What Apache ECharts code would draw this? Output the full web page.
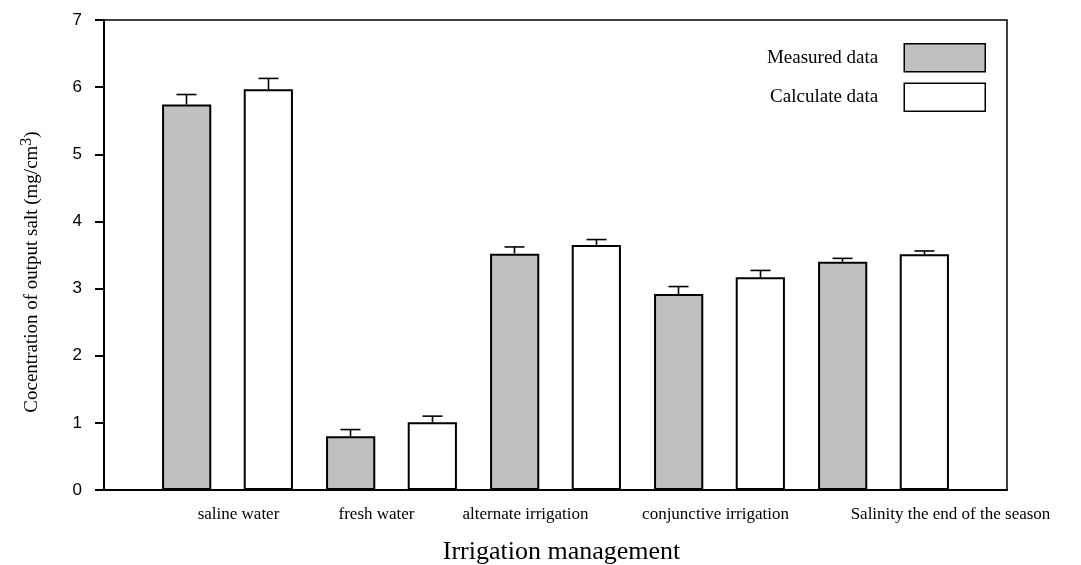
<!DOCTYPE html>
<html>
<head>
<meta charset="utf-8">
<title>Irrigation management</title>
<script src="https://cdn.jsdelivr.net/npm/echarts@6/dist/echarts.min.js"></script>
<style>
  html, body { margin: 0; padding: 0; background: #ffffff; }
  #myChart { width: 1081px; height: 565px; }
</style>
</head>
<body>
<div id="myChart"></div>
<script>
// categories on the x axis
var categories = [
  "saline water",
  "fresh water",
  "alternate irrigation",
  "conjunctive irrigation",
  "Salinity the end of the season"
];
// measured / calculated concentration (mg/cm3)
var measuredData = [5.74, 0.80, 3.52, 2.92, 3.40];
var calculateData = [5.97, 1.01, 3.65, 3.17, 3.51];
// upper error bars
var measuredErr = [0.15, 0.10, 0.10, 0.11, 0.05];
var calculateErr = [0.16, 0.09, 0.08, 0.10, 0.05];
// y ticks
var yTicks = [0, 1, 2, 3, 4, 5, 6, 7];

// small shifts of the category labels (px), like in the original picture
var labelShift = [11, -15, -30, -4, 67];

var serifFont = "'Liberation Serif', 'Times New Roman', serif";

function errRows(vals, errs) {
  return vals.map(function (v, i) {
    return [i, v, errs[i]];
  });
}

// side: -1 left bar of the pair, 1 right bar
function makeErrRender(side) {
  return function (params, api) {
    var band = api.size([1, 0])[0];
    var c = api.coord([api.value(0), api.value(1)]);
    var t = api.coord([api.value(0), api.value(1) + api.value(2)]);
    var x = c[0] + side * band / 4;
    var half = band * 0.061;
    var style = { stroke: "#000", lineWidth: 1.6 };
    return {
      type: "group",
      children: [
        { type: "line", shape: { x1: x, y1: c[1], x2: x, y2: t[1] }, style: style },
        { type: "line", shape: { x1: x - half, y1: t[1], x2: x + half, y2: t[1] }, style: style }
      ]
    };
  };
}

var rich = {};
var labelNames = {};
categories.forEach(function (name, i) {
  var s = labelShift[i];
  rich["l" + i] = {
    fontFamily: serifFont,
    fontSize: 17,
    color: "#000",
    padding: s >= 0 ? [0, 0, 0, 2 * s] : [0, -2 * s, 0, 0]
  };
  labelNames[name] = "l" + i;
});

var myChart = echarts.init(document.getElementById("myChart"));
var option = {
  backgroundColor: "#ffffff",
  animation: false,
  grid: [
    // frame with the y axis
    { left: 104, right: 74, top: 20, bottom: 75, outerBoundsMode: "none", containLabel: false,
      show: true, borderColor: "#000", borderWidth: 1.5 },
    // inner grid for the bars
    { left: 145.5, right: 115.5, top: 20, bottom: 75, outerBoundsMode: "none", containLabel: false }
  ],
  legend: {
    data: ["Measured data", "Calculate data"],
    orient: "vertical",
    align: "right",
    right: 90,
    top: 38,
    itemWidth: 81,
    itemHeight: 28,
    itemGap: 10,
    icon: "rect",
    selectedMode: false,
    itemStyle: { borderColor: "#000", borderWidth: 1.5 },
    textStyle: {
      fontFamily: serifFont,
      fontSize: 19,
      color: "#000",
      padding: [0, 21, 0, 0]
    }
  },
  xAxis: [
    {
      gridIndex: 0,
      type: "value",
      min: 0,
      max: 1,
      name: "Irrigation management",
      nameLocation: "middle",
      nameGap: 49,
      nameTextStyle: { fontFamily: serifFont, fontSize: 26, color: "#000", padding: [0, 0, 0, 12] },
      axisLine: { show: true, lineStyle: { color: "#000", width: 2 } },
      axisTick: { show: false },
      axisLabel: { show: false },
      splitLine: { show: false }
    },
    {
      gridIndex: 1,
      type: "category",
      data: categories,
      axisLine: { show: false },
      axisTick: { show: false },
      axisLabel: {
        interval: 0,
        margin: 16,
        formatter: function (v) {
          return "{" + labelNames[v] + "|" + v + "}";
        },
        rich: rich
      }
    }
  ],
  yAxis: [
    {
      gridIndex: 0,
      type: "value",
      min: yTicks[0],
      max: yTicks[yTicks.length - 1],
      interval: 1,
      name: "{a|Cocentration of output salt (mg/cm}{s|3}{a|)}",
      nameLocation: "middle",
      nameGap: 58,
      nameTextStyle: {
        padding: [0, 34, 0, 0],
        rich: {
          a: { fontFamily: serifFont, fontSize: 19, color: "#000" },
          s: { fontFamily: serifFont, fontSize: 16, color: "#000", padding: [0, 0, 11, 0] }
        }
      },
      axisLine: { show: true, lineStyle: { color: "#000", width: 2 } },
      axisTick: { show: true, inside: false, length: 9, lineStyle: { color: "#000", width: 2 } },
      axisLabel: {
        margin: 22,
        fontFamily: "'Liberation Sans', Arial, sans-serif",
        fontSize: 17,
        color: "#000"
      },
      splitLine: { show: false }
    },
    {
      gridIndex: 1,
      type: "value",
      min: yTicks[0],
      max: yTicks[yTicks.length - 1],
      interval: 1,
      show: false
    }
  ],
  series: [
    {
      name: "Measured data",
      type: "bar",
      xAxisIndex: 1,
      yAxisIndex: 1,
      data: measuredData,
      barWidth: "30%",
      barGap: "66%",
      itemStyle: { color: "#c0c0c0", borderColor: "#000", borderWidth: 2 }
    },
    {
      name: "Calculate data",
      type: "bar",
      xAxisIndex: 1,
      yAxisIndex: 1,
      data: calculateData,
      barWidth: "30%",
      barGap: "66%",
      itemStyle: { color: "#ffffff", borderColor: "#000", borderWidth: 2 }
    },
    {
      name: "measuredErr",
      type: "custom",
      xAxisIndex: 1,
      yAxisIndex: 1,
      data: errRows(measuredData, measuredErr),
      encode: { x: 0, y: 1 },
      renderItem: makeErrRender(-1),
      z: 5
    },
    {
      name: "calculateErr",
      type: "custom",
      xAxisIndex: 1,
      yAxisIndex: 1,
      data: errRows(calculateData, calculateErr),
      encode: { x: 0, y: 1 },
      renderItem: makeErrRender(1),
      z: 5
    }
  ]
};
myChart.setOption(option);
</script>
</body>
</html>
